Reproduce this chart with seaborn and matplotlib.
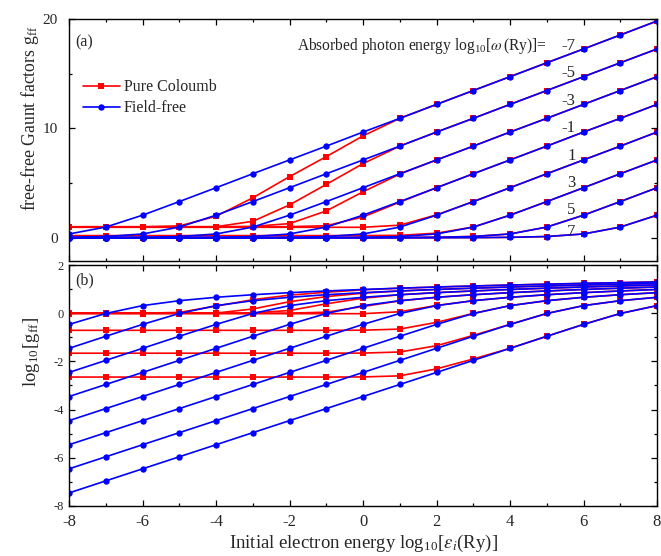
import numpy as np
import pandas as pd
import matplotlib
matplotlib.use("Agg")
import matplotlib.pyplot as plt
import seaborn as sns
from matplotlib.lines import Line2D
from matplotlib.ticker import MultipleLocator

# Initial electron energy, log10[eps_i (Ry)]
log_eps = [-8, -7, -6, -5, -4, -3, -2, -1, 0, 1, 2, 3, 4, 5, 6, 7, 8]

# Absorbed photon energy, log10[omega (Ry)]
omega_exp = [-7, -5, -3, -1, 1, 3, 5, 7]

# log10 of the free-free Gaunt factor, pure Coulomb potential
coul_w_m7 = [0.000, 0.000, 0.000, 0.033, 0.292, 0.562, 0.747, 0.870, 0.969, 1.038, 1.086, 1.129, 1.168, 1.204, 1.237, 1.268, 1.297]
coul_w_m5 = [0.000, 0.000, 0.000, 0.000, 0.004, 0.176, 0.477, 0.688, 0.831, 0.923, 0.985, 1.038, 1.086, 1.129, 1.168, 1.204, 1.237]
coul_w_m3 = [0.000, 0.000, 0.000, 0.000, 0.000, 0.015, 0.111, 0.389, 0.623, 0.765, 0.852, 0.923, 0.985, 1.038, 1.086, 1.129, 1.168]
coul_w_m1 = [0.000, 0.000, 0.000, 0.000, 0.000, 0.000, 0.005, 0.040, 0.279, 0.512, 0.660, 0.767, 0.852, 0.923, 0.985, 1.038, 1.086]
coul_w_p1 = [-0.020, -0.020, -0.020, -0.020, -0.020, -0.020, -0.020, -0.020, -0.020, 0.060, 0.320, 0.519, 0.660, 0.767, 0.852, 0.923, 0.985]
coul_w_p3 = [-0.710, -0.710, -0.710, -0.710, -0.710, -0.710, -0.710, -0.710, -0.705, -0.660, -0.380, -0.010, 0.314, 0.519, 0.660, 0.767, 0.852]
coul_w_p5 = [-1.660, -1.660, -1.660, -1.660, -1.660, -1.660, -1.660, -1.660, -1.655, -1.610, -1.350, -0.920, -0.465, -0.012, 0.314, 0.519, 0.660]
coul_w_p7 = [-2.650, -2.650, -2.650, -2.650, -2.650, -2.650, -2.650, -2.650, -2.645, -2.600, -2.310, -1.900, -1.458, -0.958, -0.465, -0.012, 0.314]

# log10 of the free-free Gaunt factor, field-free case
free_w_m7 = [-0.465, -0.012, 0.314, 0.519, 0.660, 0.767, 0.852, 0.923, 0.985, 1.038, 1.086, 1.129, 1.168, 1.204, 1.237, 1.268, 1.297]
free_w_m5 = [-1.458, -0.958, -0.465, -0.012, 0.314, 0.519, 0.660, 0.767, 0.852, 0.923, 0.985, 1.038, 1.086, 1.129, 1.168, 1.204, 1.237]
free_w_m3 = [-2.458, -1.958, -1.458, -0.958, -0.465, -0.012, 0.314, 0.519, 0.660, 0.767, 0.852, 0.923, 0.985, 1.038, 1.086, 1.129, 1.168]
free_w_m1 = [-3.458, -2.958, -2.458, -1.958, -1.458, -0.958, -0.465, -0.012, 0.314, 0.519, 0.660, 0.767, 0.852, 0.923, 0.985, 1.038, 1.086]
free_w_p1 = [-4.458, -3.958, -3.458, -2.958, -2.458, -1.958, -1.458, -0.958, -0.465, -0.012, 0.314, 0.519, 0.660, 0.767, 0.852, 0.923, 0.985]
free_w_p3 = [-5.458, -4.958, -4.458, -3.958, -3.458, -2.958, -2.458, -1.958, -1.458, -0.958, -0.465, -0.012, 0.314, 0.519, 0.660, 0.767, 0.852]
free_w_p5 = [-6.458, -5.958, -5.458, -4.958, -4.458, -3.958, -3.458, -2.958, -2.458, -1.958, -1.458, -0.958, -0.465, -0.012, 0.314, 0.519, 0.660]
free_w_p7 = [-7.458, -6.958, -6.458, -5.958, -5.458, -4.958, -4.458, -3.958, -3.458, -2.958, -2.458, -1.958, -1.458, -0.958, -0.465, -0.012, 0.314]

coulomb = [coul_w_m7, coul_w_m5, coul_w_m3, coul_w_m1, coul_w_p1, coul_w_p3, coul_w_p5, coul_w_p7]
field_free = [free_w_m7, free_w_m5, free_w_m3, free_w_m1, free_w_p1, free_w_p3, free_w_p5, free_w_p7]

rows = []
for model, series in (("Pure Coloumb", coulomb), ("Field-free", field_free)):
    for k, vals in zip(omega_exp, series):
        for x, v in zip(log_eps, vals):
            rows.append({"model": model, "omega": k, "log_eps": x, "log_g": v})
df = pd.DataFrame(rows)
df["g"] = 10.0 ** df["log_g"]

sns.set_theme(style="ticks")
plt.rcParams.update({
    "font.family": ["Liberation Serif", "DejaVu Serif"],
    "mathtext.fontset": "stix",
    "axes.unicode_minus": False,
    "axes.linewidth": 1.0,
    "axes.edgecolor": "black",
})

fig = plt.figure(figsize=(6.61, 5.56), dpi=100)
ax_a = fig.add_axes([0.10439, 0.53112, 0.88956, 0.43471])
ax_b = fig.add_axes([0.10439, 0.08993, 0.88956, 0.43345])

styles = {
    "Pure Coloumb": dict(color="red", marker="s", markersize=5, markeredgewidth=0),
    "Field-free": dict(color="blue", marker="o", markersize=4.6, markeredgewidth=0),
}

for ax, col in ((ax_a, "g"), (ax_b, "log_g")):
    for model in ("Pure Coloumb", "Field-free"):
        sns.lineplot(data=df[df["model"] == model], x="log_eps", y=col,
                     units="omega", estimator=None, sort=False, legend=False,
                     linewidth=1.2, ax=ax, **styles[model])
    ax.set_xlim(-8, 8)
    ax.xaxis.set_major_locator(MultipleLocator(2))
    ax.xaxis.set_minor_locator(MultipleLocator(1))
    ax.tick_params(which="both", direction="in", top=True, right=True,
                   width=0.9, color="black")
    ax.tick_params(which="major", length=4.5)
    ax.tick_params(which="minor", length=2.5)
    ax.set_xlabel("")
    ax.set_ylabel("")

ax_a.set_ylim(-2.1, 20)
ax_a.yaxis.set_major_locator(MultipleLocator(10))
ax_a.yaxis.set_minor_locator(MultipleLocator(5))
ax_a.tick_params(axis="x", labelbottom=False)
ax_a.tick_params(axis="y", labelsize=11, pad=8)

ax_b.set_ylim(-8, 2)
ax_b.yaxis.set_major_locator(MultipleLocator(2))
ax_b.yaxis.set_minor_locator(MultipleLocator(1))
ax_b.tick_params(axis="y", labelsize=9, pad=4)
ax_b.tick_params(axis="x", labelsize=12, pad=6)

# panel tags
ax_a.text(0.011, 0.905, "(a)", transform=ax_a.transAxes, ha="left", va="center", fontsize=11.5)
ax_b.text(0.011, 0.935, "(b)", transform=ax_b.transAxes, ha="left", va="center", fontsize=11.5)

# photon-energy labels beside each pair of curves
ax_a.text(5.0, 17.5, r"Absorbed photon energy log$_\mathregular{10}$[$\omega\,$(Ry)]=",
          ha="right", va="center", fontsize=11.2)
label_y = [17.5, 15.05, 12.5, 10.0, 7.45, 5.05, 2.5, 0.55]
for k, y in zip(omega_exp, label_y):
    ax_a.text(5.78, y, f"{k}", ha="right", va="center", fontsize=12)

handles = [
    Line2D([], [], linewidth=1.2, label="Pure Coloumb", **styles["Pure Coloumb"]),
    Line2D([], [], linewidth=1.2, label="Field-free", **styles["Field-free"]),
]
ax_a.legend(handles=handles, loc="upper left", bbox_to_anchor=(0.024, 0.75),
            frameon=False, fontsize=11.5, handlelength=2.3, handletextpad=0.25,
            labelspacing=0.3, borderpad=0, borderaxespad=0)

fig.text(363 / 661, 1 - 543 / 556, r"Initial electron energy log$_\mathregular{10}$[$\varepsilon_i$(Ry)]",
         ha="center", va="center", fontsize=13.5)
fig.text(30 / 661, 1 - 118 / 556, r"free-free Gaunt factors g$_\mathregular{ff}$",
         rotation=90, ha="center", va="center", fontsize=12.8)
fig.text(31 / 661, 1 - 352 / 556, r"log$_\mathregular{10}$[g$_\mathregular{ff}$]",
         rotation=90, ha="center", va="center", fontsize=13.5)

fig.savefig("out.png", dpi=100)
